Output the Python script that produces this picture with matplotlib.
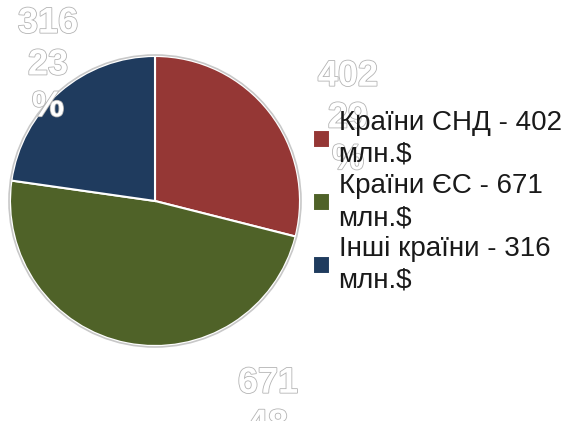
import matplotlib
matplotlib.use("Agg")
import matplotlib.pyplot as plt
import matplotlib.patheffects as pe

plt.rcParams['font.family'] = ['Liberation Sans', 'DejaVu Sans']

names = ['Країни СНД', 'Країни ЄС', 'Інші країни']
values = [402, 671, 316]
colors = ['#953735', '#4F6228', '#1F3B5E']
percents = [round(v * 100 / sum(values)) for v in values]

# label anchor points (pixels from top-left), Excel-like placement
label_pos = [(348, 118), (268, 425), (48, 65)]

W, H = 564, 421
fig = plt.figure(figsize=(W / 100, H / 100), dpi=100)
ax = fig.add_axes([0, 0, 1, 1])

wedges, _ = ax.pie(values, colors=colors, startangle=90, counterclock=False,
                   center=(155, H - 201), radius=145,
                   wedgeprops=dict(edgecolor='white', linewidth=1.5))
outline = plt.Circle((155, H - 201), 146, fill=False, edgecolor='#c8c8c8', linewidth=1.2)
ax.add_patch(outline)

ax.set_xlim(0, W)
ax.set_ylim(0, H)
ax.set_aspect('equal')
ax.axis('off')

for v, p, (x, y) in zip(values, percents, label_pos):
    ax.text(x, H - y, f"{v}\n{p}\n%", ha='center', va='center', fontsize=26,
            fontweight='bold', color='white', linespacing=1.25, zorder=3,
            path_effects=[pe.withStroke(linewidth=1.2, foreground='#b4b4b4')])

labels = [f"{n} - {v}\nмлн.$" for n, v in zip(names, values)]
leg = ax.legend(wedges, labels, loc='upper left', bbox_to_anchor=(313 / W, 1 - 110 / H),
                frameon=False, fontsize=20, handlelength=0.62, handleheight=0.62,
                handletextpad=0.3, labelspacing=0.18, borderpad=0, borderaxespad=0)
for t in leg.get_texts():
    t.set_color('#1a1a1a')
    t.set_linespacing(1.3)
leg.set_zorder(10)

fig.savefig('out.png', dpi=100)
